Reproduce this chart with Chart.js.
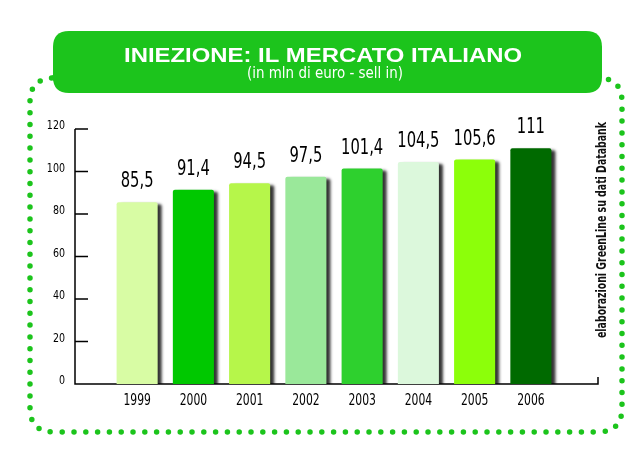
<!DOCTYPE html>
<html>
<head>
<meta charset="utf-8">
<script src="https://cdn.jsdelivr.net/npm/chart.js@4/dist/chart.umd.min.js"></script>
<style>
  html, body { margin: 0; padding: 0; background: #fff; }
  #wrap { width: 640px; height: 456px; }
</style>
</head>
<body>
<div id="wrap"><canvas id="chart" width="640" height="456"></canvas></div>
<script>
const years = ['1999', '2000', '2001', '2002', '2003', '2004', '2005', '2006'];
const values = [85.5, 91.4, 94.5, 97.5, 101.4, 104.5, 105.6, 111];
const valueLabels = ['85,5', '91,4', '94,5', '97,5', '101,4', '104,5', '105,6', '111'];
const barColors = ['#d8fca4', '#00c800', '#b6f64a', '#9ae89a', '#2ed02e', '#dcf8dc', '#8cff0a', '#006a00'];
const yTicks = [0, 20, 40, 60, 80, 100, 120];

const GREEN = '#1cc41c';
const NARROW = "'DejaVu Sans Condensed', 'Liberation Sans Narrow', sans-serif";

function roundRect(ctx, x, y, w, h, r) {
    ctx.beginPath();
    ctx.moveTo(x + r, y);
    ctx.lineTo(x + w - r, y);
    ctx.quadraticCurveTo(x + w, y, x + w, y + r);
    ctx.lineTo(x + w, y + h - r);
    ctx.quadraticCurveTo(x + w, y + h, x + w - r, y + h);
    ctx.lineTo(x + r, y + h);
    ctx.quadraticCurveTo(x, y + h, x, y + h - r);
    ctx.lineTo(x, y + r);
    ctx.quadraticCurveTo(x, y, x + r, y);
    ctx.closePath();
}

// text squeezed (or stretched) sideways, the fonts here are wider than the original
function squeezedText(ctx, text, x, y, sx) {
    ctx.save();
    ctx.translate(x, y);
    ctx.scale(sx, 1);
    ctx.fillText(text, 0, 0);
    ctx.restore();
}

function fitText(ctx, text, x, y, width) {
    squeezedText(ctx, text, x, y, width / ctx.measureText(text).width);
}

const decorPlugin = {
    id: 'decor',
    beforeDraw(chart) {
        const ctx = chart.ctx;
        ctx.save();
        // dotted frame
        ctx.strokeStyle = GREEN;
        ctx.lineWidth = 5.5;
        ctx.lineCap = 'round';
        ctx.setLineDash([0, 11.8]);
        roundRect(ctx, 30, 78, 592, 354, 24);
        ctx.stroke();
        ctx.setLineDash([]);
        // banner
        ctx.fillStyle = GREEN;
        roundRect(ctx, 53, 31, 549, 62, 16);
        ctx.fill();
        ctx.fillStyle = '#fff';
        ctx.textAlign = 'center';
        ctx.textBaseline = 'alphabetic';
        ctx.font = "bold 21px 'Liberation Sans', Arial, sans-serif";
        fitText(ctx, 'INIEZIONE: IL MERCATO ITALIANO', 323, 62, 398);
        ctx.font = '15px ' + NARROW;
        fitText(ctx, '(in mln di euro - sell in)', 325, 78, 156);
        // source note, rotated
        ctx.translate(602, 230);
        ctx.rotate(-Math.PI / 2);
        ctx.textBaseline = 'middle';
        ctx.font = 'bold 14px ' + NARROW;
        ctx.fillStyle = '#111';
        fitText(ctx, 'elaborazioni GreenLine su dati Databank', 0, 0, 216);
        ctx.restore();
    },
    beforeDatasetsDraw(chart) {
        const ctx = chart.ctx;
        const x = chart.scales.x;
        const y = chart.scales.y;
        const x0 = 75;
        const yBase = y.getPixelForValue(0);
        ctx.save();
        ctx.strokeStyle = '#000';
        ctx.lineWidth = 1.5;
        ctx.beginPath();
        ctx.moveTo(x0, y.getPixelForValue(120));
        ctx.lineTo(x0, yBase);
        ctx.lineTo(598, yBase);
        ctx.lineTo(598, yBase - 7);
        yTicks.forEach(function(t) {
            const py = y.getPixelForValue(t);
            ctx.moveTo(x0, py);
            ctx.lineTo(x0 + 13, py);
        });
        ctx.stroke();
        // tick labels
        ctx.fillStyle = '#000';
        ctx.textAlign = 'right';
        ctx.textBaseline = 'middle';
        ctx.font = '12px ' + NARROW;
        yTicks.forEach(function(t) {
            squeezedText(ctx, String(t), 65, y.getPixelForValue(t) - 3, 0.88);
        });
        ctx.textAlign = 'center';
        ctx.font = '15px ' + NARROW;
        years.forEach(function(label, i) {
            squeezedText(ctx, label, x.getPixelForValue(i), yBase + 17, 0.8);
        });
        ctx.restore();
        // shadow for the bars
        ctx.save();
        ctx.shadowColor = 'rgba(0,0,0,0.8)';
        ctx.shadowOffsetX = 4;
        ctx.shadowOffsetY = 2;
        ctx.shadowBlur = 3;
    },
    afterDatasetsDraw(chart) {
        const ctx = chart.ctx;
        ctx.restore();
        const meta = chart.getDatasetMeta(0);
        ctx.save();
        ctx.fillStyle = '#000';
        ctx.textAlign = 'center';
        ctx.textBaseline = 'alphabetic';
        ctx.font = '21px ' + NARROW;
        meta.data.forEach(function(bar, i) {
            squeezedText(ctx, valueLabels[i], bar.x, bar.y - 15, 0.78);
        });
        ctx.restore();
    }
};

const ctx = document.getElementById('chart').getContext('2d');
const myChart = new Chart(ctx, {
    type: 'bar',
    data: {
        labels: years,
        datasets: [{
            data: values,
            backgroundColor: barColors,
            borderWidth: 0,
            borderRadius: { topLeft: 2, topRight: 2 },
            barPercentage: 0.73,
            categoryPercentage: 1
        }]
    },
    options: {
        responsive: false,
        animation: false,
        events: [],
        layout: { padding: { left: 0, top: 129, right: 81, bottom: 0 } },
        plugins: {
            legend: { display: false },
            tooltip: { enabled: false },
            title: { display: false }
        },
        scales: {
            x: {
                grid: { display: false, drawTicks: false },
                border: { display: false },
                ticks: { display: false },
                afterFit(scale) { scale.height = 72; }
            },
            y: {
                min: 0,
                max: 120,
                grid: { display: false, drawTicks: false },
                border: { display: false },
                afterBuildTicks(scale) {
                    scale.ticks = yTicks.map(function(v) { return { value: v }; });
                },
                ticks: { display: false },
                afterFit(scale) { scale.width = 109; }
            }
        }
    },
    plugins: [decorPlugin]
});
</script>
</body>
</html>
